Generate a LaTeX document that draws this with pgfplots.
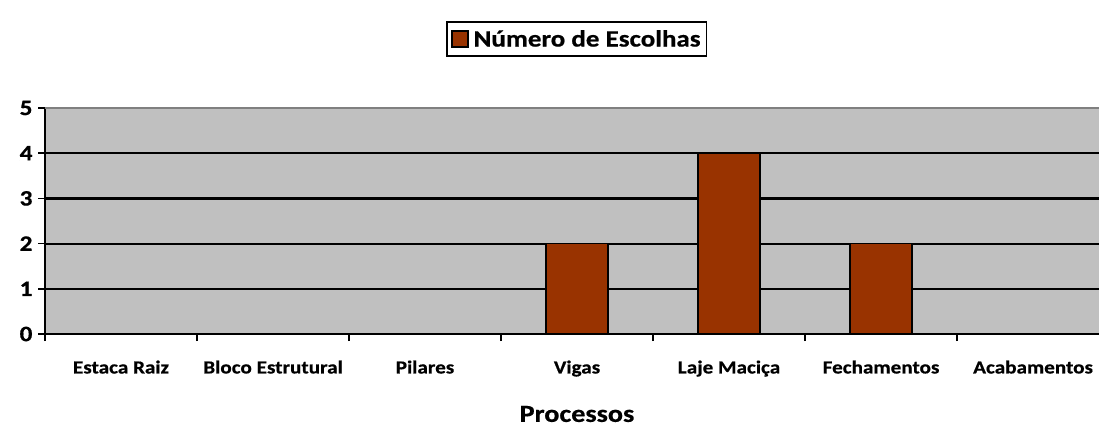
\documentclass[border=0pt]{standalone}
\usepackage{pgfplots}
\pgfplotsset{compat=1.18}
\usepackage{fontspec}
\setmainfont[FakeStretch=1.15, BoldFeatures={FakeBold=0.6}]{Carlito}
\definecolor{barbrown}{HTML}{993300}
\definecolor{bggray}{HTML}{C0C0C0}
\begin{document}
\begin{tikzpicture}[x=1pt,y=1pt]
\useasboundingbox (-45pt,-92pt) rectangle (1054pt,334pt);
\begin{axis}[
  at={(0pt,0pt)}, anchor=south west,
  scale only axis,
  width=1054pt, height=226pt,
  xmin=-0.5, xmax=6.434,
  ymin=0, ymax=5,
  ybar, bar width=62pt,
  axis background/.style={fill=bggray},
  axis line style={black, line width=1.6pt},
  axis x line*=bottom,
  axis y line*=left,
  ytick={0,1,2,3,4,5},
  ymajorgrids,
  major grid style={black, line width=2.2pt},
  ytick style={black, line width=1.6pt},
  major tick length=7pt,
  tick align=outside,
  /pgf/number format/assume math mode=true,
  yticklabel style={font=\fontsize{22}{24}\selectfont\bfseries, xshift=-2pt},
  xtick={-0.5,0.5,1.5,2.5,3.5,4.5,5.5},
  xticklabels={},
  xtick style={black, line width=1.6pt},
  extra x ticks={0,1,2,3,4,5,6},
  extra x tick labels={Estaca Raiz,Bloco Estrutural,Pilares,Vigas,Laje Maciça,Fechamentos,Acabamentos},
  extra x tick style={major tick length=0pt, tick style={draw=none},
    ticklabel style={font=\fontsize{18.4}{22}\selectfont\bfseries, yshift=-23pt}},
  xlabel={Processos},
  xlabel style={at={(axis description cs:0.5047,0)}, anchor=center, yshift=-80pt,
    font=\fontsize{24.5}{28}\selectfont\bfseries},
  legend style={at={(0.5047,1.305)}, anchor=center, draw=black, line width=1.8pt,
    font=\fontsize{23.5}{26}\selectfont\bfseries, inner xsep=4pt, inner ysep=6pt},
  legend image code/.code={\draw[fill=barbrown, draw=black, line width=1.2pt] (0pt,-8pt) rectangle (16pt,8pt);},
  clip=false,
]
\draw[color=gray, line width=2pt] (axis description cs:0,1) -- (axis description cs:1,1);
\addplot[fill=barbrown, draw=black, line width=1.6pt] coordinates {(0,0) (1,0) (2,0) (3,2) (4,4) (5,2) (6,0)};
\addlegendentry{\hspace{3pt}Número de Escolhas}
\end{axis}
\end{tikzpicture}
\end{document}
